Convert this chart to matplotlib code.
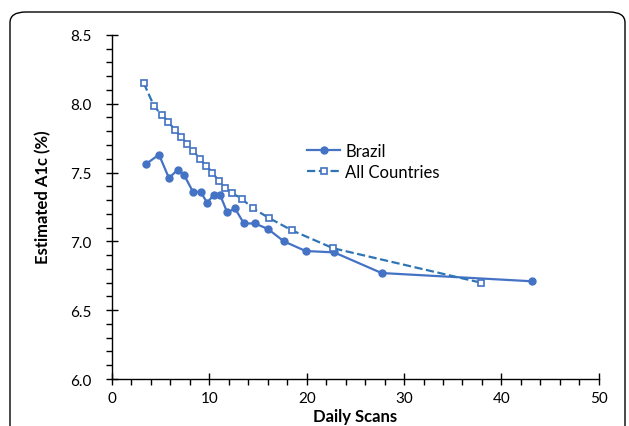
import matplotlib.pyplot as plt
from matplotlib.patches import FancyBboxPatch
from matplotlib.ticker import MultipleLocator

# Brazil
brazil_scans = [3.46, 4.83, 5.85, 6.75, 7.42, 8.32, 9.11, 9.78, 10.47, 11.09,
                11.84, 12.63, 13.55, 14.68, 16.02, 17.66, 19.89, 22.82, 27.69, 43.15]
brazil_a1c = [7.56, 7.63, 7.46, 7.52, 7.48, 7.36, 7.36, 7.28, 7.34, 7.34,
              7.21, 7.24, 7.13, 7.13, 7.09, 7.00, 6.93, 6.92, 6.77, 6.71]

# All countries
all_scans = [3.26, 4.34, 5.10, 5.78, 6.45, 7.08, 7.73, 8.35, 9.00, 9.67,
             10.32, 10.95, 11.60, 12.35, 13.32, 14.48, 16.12, 18.48, 22.72, 37.89]
all_a1c = [8.15, 7.98, 7.92, 7.87, 7.81, 7.76, 7.71, 7.66, 7.60, 7.55,
           7.50, 7.44, 7.39, 7.35, 7.31, 7.24, 7.17, 7.08, 6.95, 6.70]

plt.rcParams['font.family'] = ['Lato', 'DejaVu Sans']

fig = plt.figure(figsize=(6.29, 4.27), dpi=100)
ax = fig.add_axes([0.178, 0.110, 0.774, 0.806])

# rounded frame around the panel (runs off the right and bottom edge)
frame = FancyBboxPatch((10 / 629, -0.2), 615 / 629, 1.2 - 13 / 427,
                       boxstyle="round,pad=0,rounding_size=0.025",
                       transform=fig.transFigure, fill=False,
                       edgecolor='black', linewidth=1.0, clip_on=False)
fig.patches.append(frame)

ax.plot(brazil_scans, brazil_a1c, '-o', color='#4472C4', linewidth=1.6,
        markersize=5, label='Brazil')
ax.plot(all_scans, all_a1c, '--s', color='#2E75B6', linewidth=1.6,
        markersize=5, markerfacecolor='white', markeredgecolor='#4472C4',
        markeredgewidth=1.2, label='All Countries')

ax.set_xlim(0, 50)
ax.set_ylim(6.0, 8.5)
ax.xaxis.set_major_locator(MultipleLocator(10))
ax.xaxis.set_minor_locator(MultipleLocator(2))
ax.yaxis.set_major_locator(MultipleLocator(0.5))
ax.yaxis.set_minor_locator(MultipleLocator(0.1))
ax.yaxis.set_major_formatter(lambda v, p: f"{v:.1f}")

for s in ('top', 'right'):
    ax.spines[s].set_visible(False)
for s in ('left', 'bottom'):
    ax.spines[s].set_linewidth(1.0)

ax.tick_params(which='major', direction='inout', length=9, width=1.0,
               labelsize=11, pad=4)
ax.tick_params(which='minor', direction='out', length=4, width=1.0)
ax.tick_params(axis='y', which='major', pad=10)

ax.set_xlabel('Daily Scans', fontsize=12, fontweight='bold', labelpad=2)
ax.set_ylabel('Estimated A1c (%)', fontsize=12, fontweight='bold')
ax.yaxis.set_label_coords(-0.125, 0.53)

ax.legend(loc='upper left', bbox_to_anchor=(0.37, 0.73), frameon=False,
          fontsize=12, handlelength=2.0, handletextpad=0.3, labelspacing=0.3)

fig.savefig('out.png', dpi=100)
